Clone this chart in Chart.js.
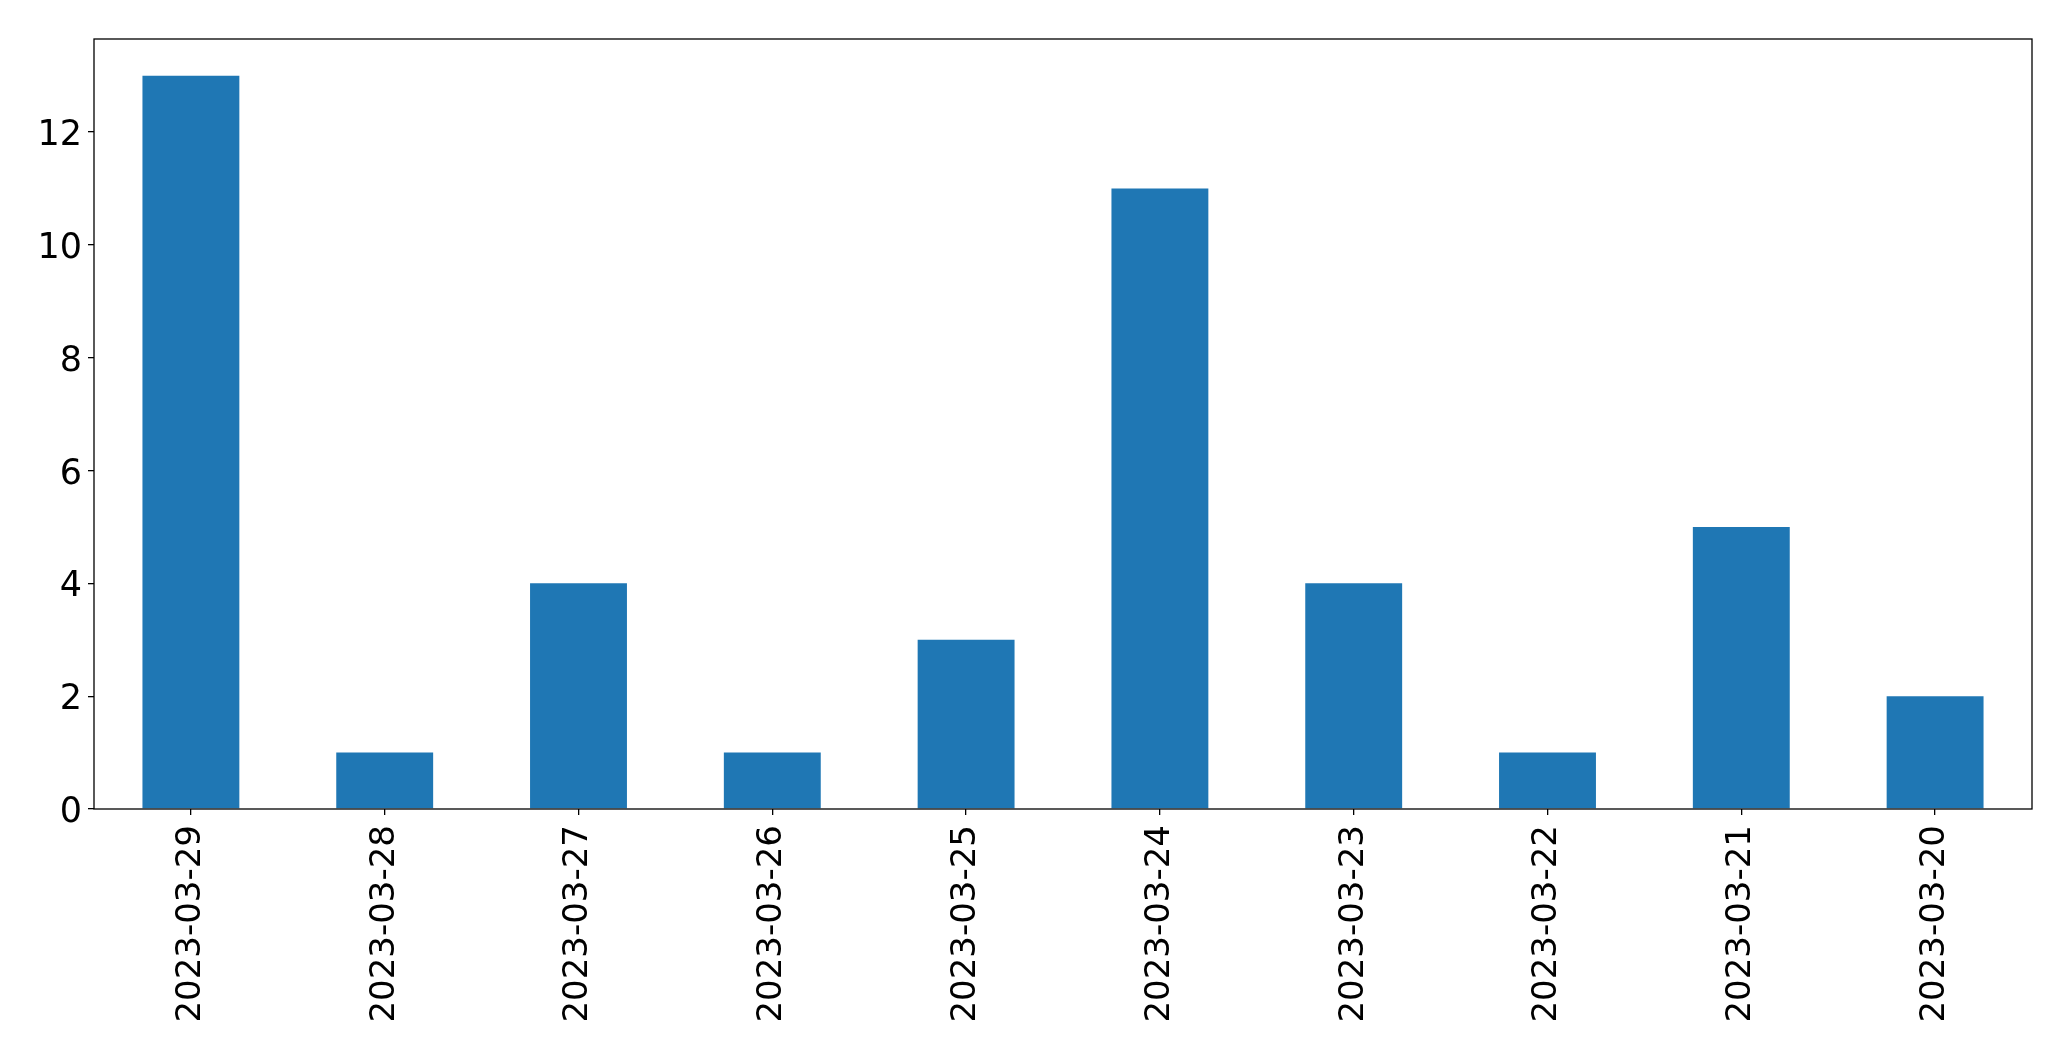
<!DOCTYPE html>
<html>
<head>
<meta charset="utf-8">
<script src="https://cdn.jsdelivr.net/npm/chart.js@4.4.0/dist/chart.umd.min.js"></script>
<style>
html,body{margin:0;padding:0;background:#fff;}
#wrap{width:2071px;height:1061px;position:relative;}
</style>
</head>
<body>
<div id="wrap"><canvas id="c" width="2071" height="1061"></canvas></div>
<script>
const categories = ["2023-03-29","2023-03-28","2023-03-27","2023-03-26","2023-03-25","2023-03-24","2023-03-23","2023-03-22","2023-03-21","2023-03-20"];
const values = [13, 1, 4, 1, 3, 11, 4, 1, 5, 2];
const yTicks = [0, 2, 4, 6, 8, 10, 12];

const frame = {
  id: 'frame',
  afterDraw(chart) {
    const {ctx, chartArea: a} = chart;
    ctx.save();
    ctx.strokeStyle = '#000';
    ctx.lineWidth = 1.3;
    ctx.strokeRect(a.left, a.top, a.right - a.left, a.bottom - a.top);
    ctx.restore();
  }
};

new Chart(document.getElementById('c'), {
  type: 'bar',
  data: {
    labels: categories,
    datasets: [{
      data: values,
      backgroundColor: '#1f77b4',
      borderWidth: 0,
      categoryPercentage: 1.0,
      barPercentage: 0.5
    }]
  },
  options: {
    responsive: false,
    animation: false,
    layout: {padding: {top: 39, right: 39, left: 0, bottom: 0}},
    plugins: {legend: {display: false}, tooltip: {enabled: false}},
    scales: {
      x: {
        grid: {display: true, offset: false, drawOnChartArea: false, tickLength: 6, color: '#000', lineWidth: 1.3},
        border: {display: false},
        ticks: {
          minRotation: 90, maxRotation: 90, padding: 10,
          color: '#000', font: {family: 'DejaVu Sans', size: 34}
        },
        afterFit(s) { s.height = 252; }
      },
      y: {
        min: 0,
        max: 13.65,
        grid: {display: true, drawOnChartArea: false, tickLength: 6, color: '#000', lineWidth: 1.3},
        border: {display: false},
        afterBuildTicks(s) { s.ticks = yTicks.map(v => ({value: v})); },
        ticks: {
          padding: 6, labelOffset: 4,
          color: '#000', font: {family: 'DejaVu Sans', size: 35}
        },
        afterFit(s) { s.width = 94; }
      }
    }
  },
  plugins: [frame]
});
</script>
</body>
</html>
